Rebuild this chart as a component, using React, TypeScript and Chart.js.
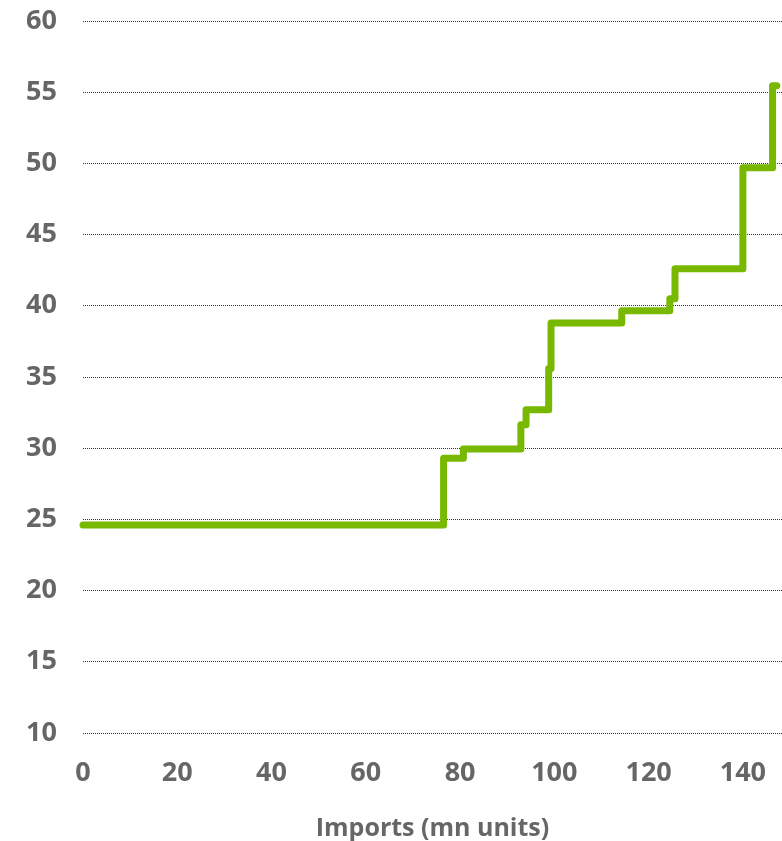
import React, { useEffect, useRef } from "react";
import { Chart, registerables } from "chart.js";

Chart.register(...registerables);

// Step start positions (imports, mn units) and the price level from that point on
const stepStarts = [0, 76.5, 80.7, 92.9, 94.0, 98.8, 99.3, 114.3, 124.5, 125.6, 140.0, 146.3, 147.2];
const stepLevels = [24.6, 29.3, 29.95, 31.65, 32.7, 35.6, 38.8, 39.66, 40.5, 42.6, 49.7, 55.45, 55.45];

const xTickValues = [0, 20, 40, 60, 80, 100, 120, 140];
const yTickValues = [10, 15, 20, 25, 30, 35, 40, 45, 50, 55, 60];
const xAxisTitle = "Imports (mn units)";

const X_MIN = 0;
const X_MAX = 148.3;
const Y_MIN = 10;
const Y_MAX = 60;

export default function App() {
  const canvasRef = useRef<HTMLCanvasElement | null>(null);

  useEffect(() => {
    document.body.style.margin = "0";
    const canvas = canvasRef.current;
    if (!canvas) return;
    const points = stepStarts.map((x, i) => ({ x, y: stepLevels[i] }));
    const labelFont = { family: "'Open Sans', sans-serif", size: 27, weight: "bold" as const };

    const chart = new Chart(canvas, {
      type: "line",
      data: {
        datasets: [
          {
            data: points,
            stepped: "before",
            borderColor: "#78B800",
            borderWidth: 7,
            borderCapStyle: "round",
            borderJoinStyle: "round",
            pointRadius: 0,
            fill: false,
            clip: false as any,
          },
        ],
      },
      options: {
        animation: false,
        responsive: false,
        maintainAspectRatio: false,
        layout: { padding: { left: 0, right: 0, top: 21, bottom: 0 } },
        plugins: {
          legend: { display: false },
          tooltip: { enabled: false },
        },
        scales: {
          x: {
            type: "linear",
            min: X_MIN,
            max: X_MAX,
            grid: { display: false, drawTicks: false },
            border: { display: false },
            afterBuildTicks: (axis: any) => {
              axis.ticks = xTickValues.map((v) => ({ value: v }));
            },
            afterFit: (axis: any) => {
              axis.height = 108;
              axis.paddingLeft = 0;
              axis.paddingRight = 0;
            },
            ticks: {
              color: "#666666",
              font: labelFont,
              padding: 24,
              maxRotation: 0,
              autoSkip: false,
            },
            title: {
              display: true,
              text: xAxisTitle,
              color: "#666666",
              font: { family: "'Open Sans', sans-serif", size: 25, weight: "bold", lineHeight: 1 },
              padding: { top: 1, bottom: 0 },
            },
          },
          y: {
            type: "linear",
            min: Y_MIN,
            max: Y_MAX,
            grid: {
              display: true,
              drawTicks: false,
              color: "#333333",
              lineWidth: 1,
            },
            border: { display: false, dash: [1, 1] },
            afterBuildTicks: (axis: any) => {
              axis.ticks = yTickValues.map((v) => ({ value: v }));
            },
            afterFit: (axis: any) => {
              axis.width = 83;
              axis.paddingTop = 0;
              axis.paddingBottom = 0;
            },
            ticks: {
              color: "#666666",
              font: labelFont,
              padding: 26,
              autoSkip: false,
            },
          },
        },
      },
    });
    return () => chart.destroy();
  }, []);

  return (
    <div style={{ position: "absolute", left: 0, top: 0, width: 782, height: 841, background: "#ffffff" }}>
      <canvas ref={canvasRef} width={782} height={841} style={{ display: "block" }} />
    </div>
  );
}
